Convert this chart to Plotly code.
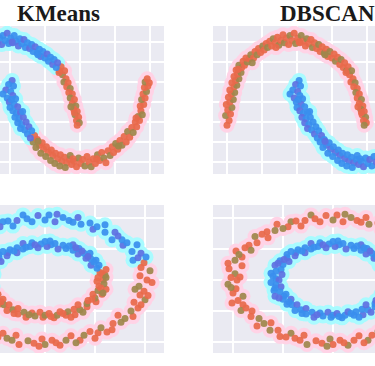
import plotly.graph_objects as go

# ---------------- data: two moons ----------------
upper_moon_x = [-1.00, -0.97, -1.02, -0.95, -0.99, -0.93, -1.01, -0.96, -0.91, -0.98, -0.94, -0.89, -0.96, -0.90, -0.86,
                -0.93, -0.88, -0.83, -0.90, -0.85, -0.80, -0.87, -0.79, -0.83, -0.75, -0.77, -0.71, -0.73, -0.68, -0.66,
                -0.62, -0.60, -0.57, -0.55, -0.52, -0.49, -0.47, -0.44, -0.42, -0.39, -0.36, -0.34, -0.31, -0.28, -0.26,
                -0.23, -0.20, -0.18, -0.15, -0.12, -0.10, -0.07, -0.04, -0.02, 0.01, 0.04, 0.06, 0.09, 0.12, 0.14,
                0.17, 0.20, 0.22, 0.25, 0.28, 0.31, 0.33, 0.36, 0.39, 0.42, 0.44, 0.47, 0.50, 0.53, 0.55,
                0.58, 0.61, 0.63, 0.66, 0.68, 0.71, 0.73, 0.75, 0.78, 0.80, 0.77, 0.83, 0.81, 0.86, 0.84,
                0.89, 0.86, 0.92, 0.89, 0.94, 0.91, 0.96, 0.93, 0.98, 0.95, 0.99, 0.96, 0.92, 0.87, -0.64,
                -0.30, 0.03, 0.40, 0.70, -0.84]
upper_moon_y = [-0.04, 0.02, 0.08, 0.10, 0.15, 0.18, 0.22, 0.25, 0.28, 0.31, 0.35, 0.37, 0.40, 0.44, 0.46,
                0.49, 0.52, 0.54, 0.57, 0.60, 0.62, 0.65, 0.68, 0.71, 0.71, 0.76, 0.75, 0.80, 0.79, 0.84,
                0.80, 0.88, 0.84, 0.92, 0.87, 0.95, 0.90, 0.98, 0.93, 1.01, 0.95, 1.04, 0.99, 1.06, 0.96,
                1.02, 1.09, 0.99, 1.05, 0.97, 1.08, 1.02, 1.11, 0.98, 1.05, 0.99, 1.08, 1.01, 0.95, 1.04,
                0.98, 1.03, 0.93, 0.99, 0.92, 0.97, 0.88, 0.94, 0.86, 0.91, 0.82, 0.88, 0.80, 0.85, 0.76,
                0.81, 0.72, 0.78, 0.68, 0.74, 0.64, 0.69, 0.59, 0.64, 0.54, 0.50, 0.49, 0.44, 0.42, 0.37,
                0.35, 0.30, 0.28, 0.23, 0.20, 0.16, 0.13, 0.09, 0.06, 0.02, -0.01, -0.04, 0.12, 0.19, 0.74,
                0.93, 1.00, 0.84, 0.62, 0.66]

lower_moon_x = [0.03, -0.02, 0.05, -0.06, 0.01, -0.10, 0.04, -0.04, 0.08, -0.01, 0.06, 0.00, 0.11, 0.04, 0.09,
                0.15, 0.07, 0.13, 0.19, 0.11, 0.17, 0.23, 0.15, 0.21, 0.27, 0.25, 0.31, 0.29, 0.35, 0.33,
                0.39, 0.42, 0.37, 0.46, 0.48, 0.44, 0.52, 0.55, 0.51, 0.59, 0.61, 0.58, 0.65, 0.68, 0.64,
                0.72, 0.74, 0.71, 0.78, 0.81, 0.79, 0.85, 0.88, 0.86, 0.92, 0.95, 0.98, 1.01, 1.04, 1.07,
                1.10, 1.13, 1.16, 1.19, 1.22, 1.25, 1.28, 1.31, 1.34, 1.37, 1.40, 1.43, 1.46, 1.48, 1.51,
                1.54, 1.57, 1.60, 1.63, 1.66, 1.68, 1.71, 1.74, 1.76, 1.79, 1.81, 1.83, 1.85, 1.87, 1.89,
                1.86, 1.91, 1.88, 1.93, 1.90, 1.95, 1.92, 1.97, 1.93, 1.96, 1.99, 0.02, 0.18, 0.40, 0.90,
                1.24, 1.55, 1.80]
lower_moon_y = [0.52, 0.47, 0.45, 0.40, 0.38, 0.35, 0.33, 0.30, 0.29, 0.25, 0.22, 0.18, 0.19, 0.14, 0.11,
                0.12, 0.06, 0.04, 0.06, -0.01, -0.03, 0.00, -0.08, -0.10, -0.06, -0.15, -0.11, -0.20, -0.17, -0.25,
                -0.22, -0.29, -0.32, -0.26, -0.34, -0.39, -0.31, -0.38, -0.43, -0.35, -0.42, -0.48, -0.39, -0.46, -0.52,
                -0.41, -0.49, -0.55, -0.44, -0.51, -0.57, -0.47, -0.53, -0.42, -0.49, -0.56, -0.45, -0.52, -0.47, -0.55,
                -0.43, -0.50, -0.56, -0.46, -0.52, -0.41, -0.48, -0.38, -0.45, -0.51, -0.36, -0.42, -0.31, -0.38, -0.27,
                -0.34, -0.23, -0.29, -0.18, -0.25, -0.12, -0.19, -0.07, -0.13, 0.00, -0.06, 0.07, 0.02, 0.14, 0.09,
                0.20, 0.22, 0.28, 0.30, 0.35, 0.38, 0.43, 0.45, 0.50, 0.54, 0.49, 0.28, 0.13, -0.24, -0.46,
                -0.46, -0.30, 0.05]

# ---------------- data: two circles ----------------
outer_ring_x = [1.02, 0.95, 1.05, 0.96, 0.99, 0.88, 0.96, 0.87, 0.92, 0.78, 0.77, 0.67, 0.70, 0.60, 0.60, 0.48, 0.45, 0.36,
                0.33, 0.24, 0.18, 0.10, 0.04,
                0.00, -0.07, -0.13, -0.22, -0.28, -0.32, -0.42, -0.45, -0.56, -0.58, -0.66, -0.65, -0.78, -0.76, -0.84,
                -0.82, -0.97, -0.91, -0.98, -0.91, -1.04, -0.98, -1.02,
                -0.96, -1.05, -0.97, -1.00, -0.90, -1.01, -0.90, -0.92, -0.81, -0.82, -0.74, -0.76, -0.62, -0.63, -0.55,
                -0.53, -0.42, -0.38, -0.29, -0.26, -0.17, -0.11, -0.03,
                0.00, 0.07, 0.15, 0.21, 0.26, 0.35, 0.39, 0.50, 0.53, 0.56, 0.67, 0.68, 0.76, 0.73, 0.88, 0.86, 0.93,
                0.89, 1.00, 0.95, 0.99, 0.94, 1.07,
                0.93, 1.01, 0.82, 0.73, 0.52, 0.28, 0.12,
                -0.18, -0.37, -0.50, -0.71, -0.88, -0.94, -1.05, -0.93,
                -1.02, -0.95, -0.87, -0.69, -0.47, -0.33, -0.06,
                0.11, 0.31, 0.45, 0.62, 0.80, 0.96, 1.03, 0.90]
outer_ring_y = [0.00, 0.07, 0.15, 0.20, 0.28, 0.32, 0.43, 0.46, 0.57, 0.56, 0.65, 0.65, 0.77, 0.77, 0.89, 0.82, 0.92, 0.90,
                1.01, 0.96, 1.01, 0.94, 1.05,
                0.97, 1.04, 0.94, 1.05, 0.96, 0.87, 0.94, 0.86, 0.90, 0.80, 0.78, 0.68, 0.70, 0.60, 0.56,
                0.48, 0.47, 0.37, 0.32, 0.23, 0.18, 0.10, 0.04,
                0.00, -0.07, -0.14, -0.21, -0.26, -0.37, -0.40, -0.49, -0.50, -0.59, -0.62, -0.74, -0.69, -0.81, -0.81,
                -0.91, -0.86, -0.94, -0.89, -1.04, -0.98, -1.02, -0.95,
                -1.04, -0.97, -1.05, -0.97, -0.90, -0.97, -0.89, -0.94, -0.85, -0.77, -0.80, -0.70, -0.68, -0.57, -0.59,
                -0.50, -0.45, -0.36, -0.32, -0.24, -0.18, -0.10, -0.04,
                0.36, 0.37, 0.60, 0.71, 0.86, 0.93, 1.06,
                0.99, 0.95, 0.83, 0.74, 0.52, 0.41, 0.27, 0.05,
                -0.12, -0.33, -0.45, -0.70, -0.92, -0.97, -1.07,
                -1.01, -1.01, -0.83, -0.84, -0.62, -0.40, -0.25, -0.15]

inner_ring_x = [0.58, 0.53, 0.60, 0.55, 0.61, 0.52, 0.54, 0.46, 0.51, 0.46, 0.41, 0.45, 0.39, 0.33, 0.34, 0.28, 0.28, 0.21,
                0.18, 0.13, 0.10, 0.06, 0.02,
                0.00, -0.04, -0.07, -0.13, -0.15, -0.22, -0.22, -0.28, -0.28, -0.35, -0.37, -0.38, -0.46, -0.46, -0.44,
                -0.53, -0.50, -0.58, -0.52, -0.57, -0.51, -0.60, -0.57,
                -0.54, -0.62, -0.57, -0.52, -0.59, -0.53, -0.58, -0.49, -0.50, -0.42, -0.46, -0.41, -0.36, -0.38, -0.32,
                -0.27, -0.27, -0.21, -0.19, -0.13, -0.10, -0.05, -0.02,
                0.00, 0.04, 0.09, 0.12, 0.15, 0.21, 0.23, 0.30, 0.29, 0.35, 0.33, 0.42, 0.42, 0.43, 0.51, 0.50, 0.48,
                0.57, 0.53, 0.61, 0.54, 0.59, 0.52,
                0.57, 0.49, 0.37, 0.24, 0.05, -0.10, -0.31, -0.42, -0.55, -0.62, -0.58, -0.54, -0.44, -0.31,
                -0.16, 0.06, 0.18, 0.38, 0.47, 0.56, 0.61, 0.43, -0.19, -0.49, -0.47, 0.26, 0.58, 0.31]
inner_ring_y = [0.00, 0.04, 0.08, 0.12, 0.17, 0.19, 0.24, 0.24, 0.32, 0.34, 0.35, 0.43, 0.43, 0.42, 0.51, 0.48, 0.57, 0.51,
                0.56, 0.50, 0.59, 0.57, 0.54,
                0.62, 0.58, 0.52, 0.60, 0.54, 0.59, 0.50, 0.52, 0.44, 0.49, 0.44, 0.39, 0.41, 0.36, 0.30,
                0.31, 0.25, 0.24, 0.17, 0.14, 0.09, 0.06, 0.02,
                0.00, -0.04, -0.08, -0.11, -0.17, -0.19, -0.26, -0.26, -0.31, -0.31, -0.39, -0.40, -0.40, -0.49, -0.48,
                -0.46, -0.55, -0.52, -0.60, -0.53, -0.58, -0.52, -0.60,
                -0.57, -0.54, -0.61, -0.57, -0.51, -0.57, -0.51, -0.56, -0.47, -0.48, -0.40, -0.43, -0.38, -0.33, -0.35,
                -0.29, -0.23, -0.23, -0.17, -0.15, -0.10, -0.06, -0.02,
                0.10, 0.29, 0.47, 0.55, 0.63, 0.57, 0.47, 0.46, 0.27, 0.11, -0.13, -0.29, -0.35, -0.54,
                -0.56, -0.59, -0.54, -0.52, -0.31, -0.13, 0.04, 0.38, 0.53, 0.33, -0.23, -0.60, -0.21, 0.52]

# KMeans centroids (cluster 0 = blue, cluster 1 = orange)
moons_kmeans_centers = [(-0.19, 0.57), (1.19, -0.01)]
circles_kmeans_centers = [(-0.16, 0.47), (0.16, -0.47)]

panel_titles = ["KMeans", "DBSCAN"]

# ---------------- styles ----------------
ORANGE_DOTS = ["#E8694B", "#E8694B", "#9E874B"]
BLUE_DOTS = ["#3A8EEE", "#5E70E2", "#3A8EEE"]
ORANGE_HALO = "#FFD3E6"
BLUE_HALO = "#A8FBFF"
BG = "#EAEAF2"


def kmeans_split(xs, ys, centers):
    blue, orange = ([], []), ([], [])
    for x, y in zip(xs, ys):
        d0 = (x - centers[0][0]) ** 2 + (y - centers[0][1]) ** 2
        d1 = (x - centers[1][0]) ** 2 + (y - centers[1][1]) ** 2
        tgt = blue if d0 < d1 else orange
        tgt[0].append(x)
        tgt[1].append(y)
    return blue, orange


moons_x = upper_moon_x + lower_moon_x
moons_y = upper_moon_y + lower_moon_y
circ_x = outer_ring_x + inner_ring_x
circ_y = outer_ring_y + inner_ring_y

panels = [
    ("x", "y", *kmeans_split(moons_x, moons_y, moons_kmeans_centers)),
    ("x2", "y2", (lower_moon_x, lower_moon_y), (upper_moon_x, upper_moon_y)),
    ("x3", "y3", *kmeans_split(circ_x, circ_y, circles_kmeans_centers)),
    ("x4", "y4", (inner_ring_x, inner_ring_y), (outer_ring_x, outer_ring_y)),
]

fig = go.Figure()
for xa, ya, blue, orange in panels:
    for pts, halo in ((orange, ORANGE_HALO), (blue, BLUE_HALO)):
        fig.add_trace(go.Scatter(x=pts[0], y=pts[1], xaxis=xa, yaxis=ya, mode="markers",
                                 marker=dict(size=15, color=halo, line=dict(width=0)),
                                 hoverinfo="skip", showlegend=False))
    for pts, pal in ((orange, ORANGE_DOTS), (blue, BLUE_DOTS)):
        cols = [pal[i % len(pal)] for i in range(len(pts[0]))]
        fig.add_trace(go.Scatter(x=pts[0], y=pts[1], xaxis=xa, yaxis=ya, mode="markers",
                                 marker=dict(size=7, color=cols, opacity=0.92, line=dict(width=0)),
                                 showlegend=False))

W, H = 375, 366
ax_common = dict(showticklabels=False, ticks="", zeroline=False, showline=False,
                 gridcolor="white", gridwidth=1.5, fixedrange=True)

top_dom = [1 - 174 / H, 1 - 26 / H]
bot_dom = [1 - 353 / H, 1 - 205 / H]
left_dom = [0, 164 / W]
right_dom = [213 / W, 1]

fig.update_layout(
    width=W, height=H,
    margin=dict(l=0, r=0, t=0, b=0, pad=0),
    paper_bgcolor="white", plot_bgcolor=BG,
    xaxis=dict(domain=left_dom, range=[-0.143, 2.2], dtick=0.5, anchor="y", **ax_common),
    yaxis=dict(domain=top_dom, range=[-0.65, 1.2], dtick=0.25, anchor="x", **ax_common),
    xaxis2=dict(domain=right_dom, range=[-1.2, 1.114], dtick=0.5, anchor="y2", **ax_common),
    yaxis2=dict(domain=top_dom, range=[-0.65, 1.2], dtick=0.25, anchor="x2", **ax_common),
    xaxis3=dict(domain=left_dom, range=[-0.45, 1.19], dtick=0.5, anchor="y3", **ax_common),
    yaxis3=dict(domain=bot_dom, range=[-1.177, 1.21], dtick=0.5, anchor="x3", **ax_common),
    xaxis4=dict(domain=right_dom, range=[-1.2, 0.42], dtick=0.5, anchor="y4", **ax_common),
    yaxis4=dict(domain=bot_dom, range=[-1.177, 1.21], dtick=0.5, anchor="x4", **ax_common),
)

title_font = dict(family="Liberation Serif", size=23, color="#1a1a1a")
fig.add_annotation(text="<b>%s</b>" % panel_titles[0], xref="paper", yref="paper",
                   x=15 / W, y=1 - 13.5 / H, xanchor="left", yanchor="middle",
                   showarrow=False, font=title_font)
fig.add_annotation(text="<b>%s</b>" % panel_titles[1], xref="paper", yref="paper",
                   x=278 / W, y=1 - 13.5 / H, xanchor="left", yanchor="middle",
                   showarrow=False, font=title_font)

fig.write_html("out.html", config={"displayModeBar": False},
               post_script="document.body.style.margin='0';document.body.style.overflow='hidden';")
